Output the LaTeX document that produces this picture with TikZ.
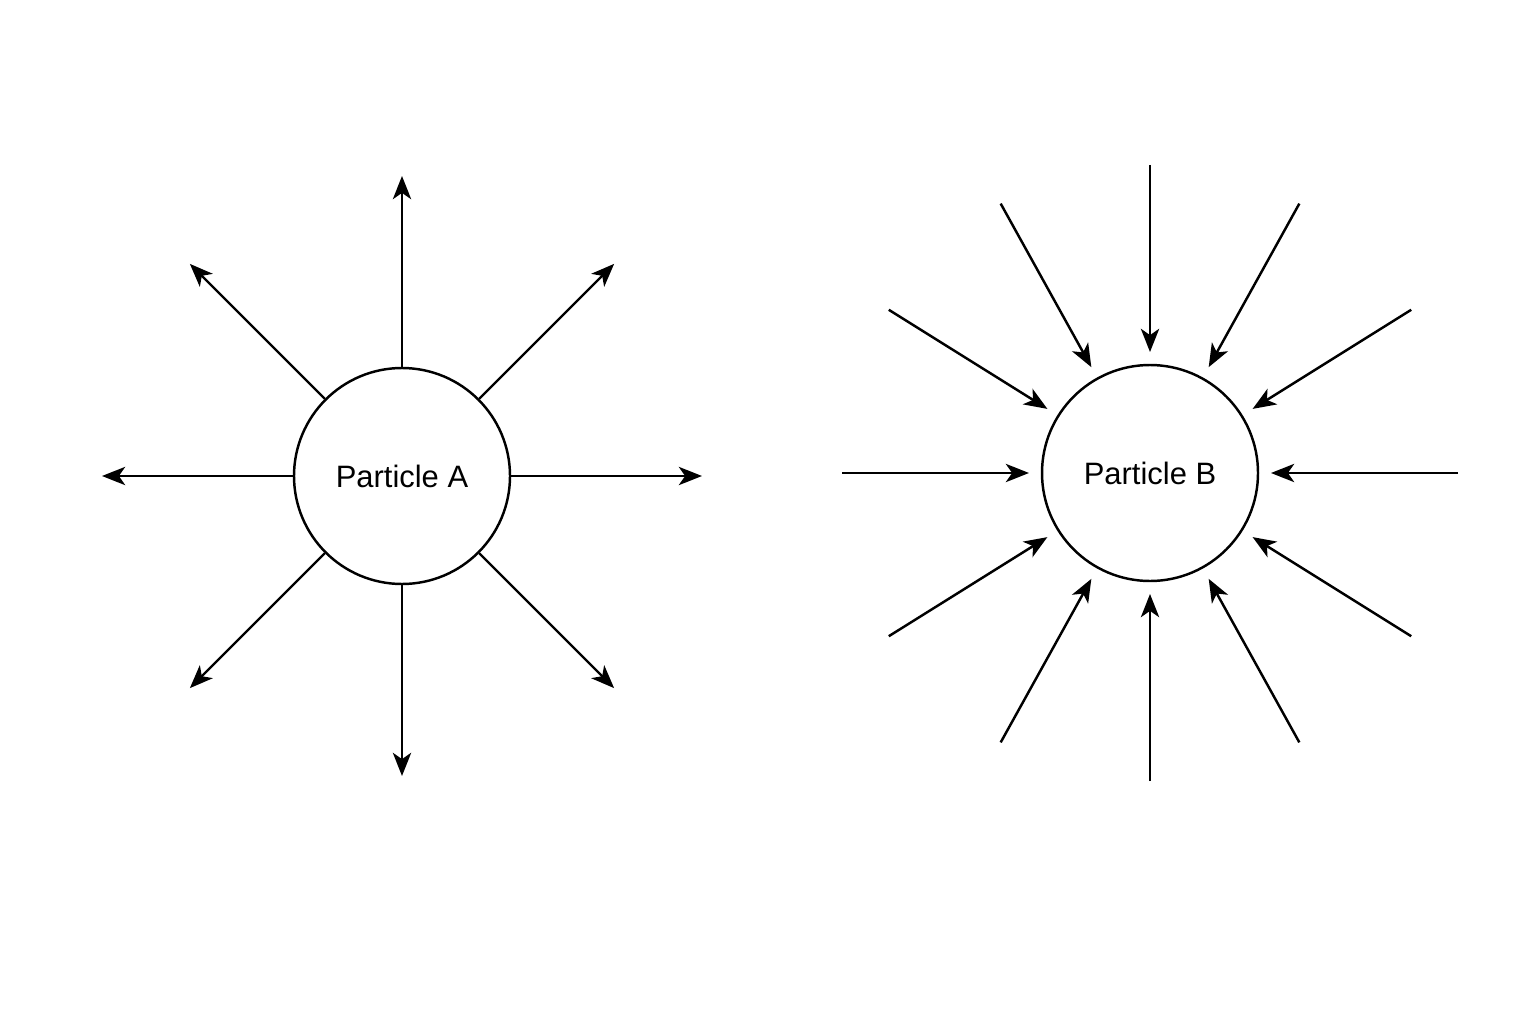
\documentclass[tikz,border=0pt]{standalone}
\usepackage{fontspec}
\setmainfont{Liberation Sans}
\usetikzlibrary{arrows.meta,positioning,calc}

\begin{document}
\begin{tikzpicture}[->,>={Stealth[length=6.6pt,width=5.2pt,inset=1.8pt]},line width=0.7pt,
  particle/.style={circle,draw,-,minimum size=2.16cm,inner sep=0pt,font=\fontsize{8.8}{10}\selectfont}]

  \useasboundingbox (0,0) rectangle (15.36,10.24);

  % The two particles
  \node [particle] at (4.02,5.48) (pA) {Particle A};
  \node [particle] at (11.50,5.51) (pB) {Particle B};

  % Outgoing field of A
  \foreach \a in {0,45,...,315}{
    \path (pA) ++(\a:3.0) coordinate (outA\a);
    \draw[->] (pA.\a) -- (outA\a);
  }

  % Incoming field of B
  \foreach \a in {0,32,61,90,119,148,180,212,241,270,299,328}{
    \path (pB) ++(\a:3.08) coordinate (inB\a);
    \path (pB) ++(\a:1.21) coordinate (tipB\a);
    \draw[->] (inB\a) -- (tipB\a);
  }

\end{tikzpicture}
\end{document}
